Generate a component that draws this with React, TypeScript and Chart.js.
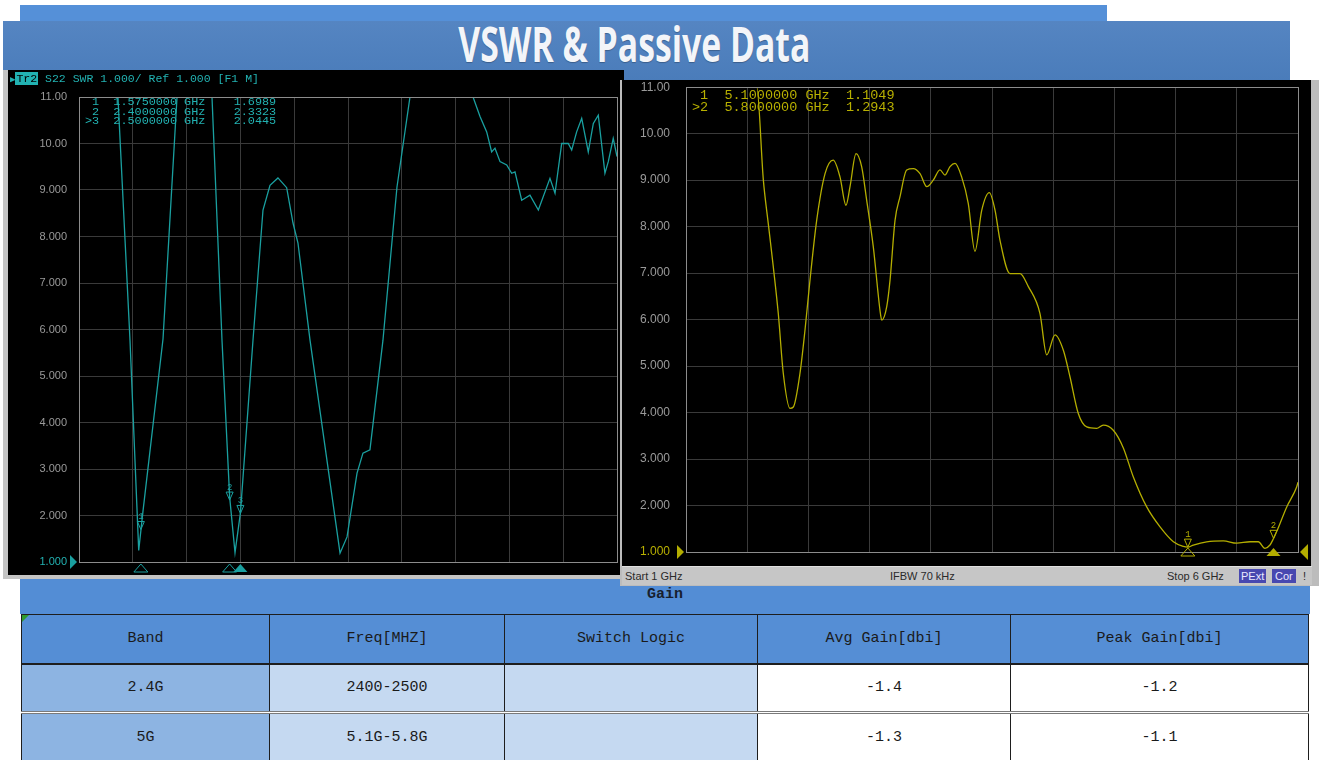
import React, { useEffect, useLayoutEffect, useRef } from 'react';
import { Chart, registerables } from 'chart.js';
Chart.register(...registerables);

// ---------- data ----------
const leftFreqGHz = [1.0, 1.362, 1.474, 1.555, 1.595, 1.781, 1.911, 2.236, 2.329, 2.4, 2.45, 2.5, 2.617, 2.71, 2.775, 2.849, 2.93, 2.989, 3.035, 3.147, 3.426, 3.491, 3.584, 3.639, 3.704, 3.825, 3.955, 4.076, 4.662, 4.727, 4.789, 4.835, 4.866, 4.913, 4.975, 5.021, 5.052, 5.114, 5.191, 5.269, 5.377, 5.424, 5.486, 5.547, 5.579, 5.625, 5.672, 5.733, 5.78, 5.826, 5.888, 5.919, 5.965, 6.0];
const leftVswr = [11, 11, 5.77, 1.25, 2.1, 5.8, 11, 11, 5.77, 2.4, 1.2, 2.05, 5.77, 8.57, 9.1, 9.26, 9.05, 8.29, 7.86, 5.77, 1.19, 1.54, 2.91, 3.34, 3.41, 5.77, 9.06, 11, 11, 10.58, 10.25, 9.82, 9.9, 9.61, 9.54, 9.36, 9.39, 8.78, 8.89, 8.57, 9.25, 8.93, 10.0, 10.0, 9.86, 10.25, 10.54, 9.82, 10.43, 10.61, 9.36, 9.61, 10.11, 9.72];
const leftMarkerFreqGHz = [1.575, 2.4, 2.5];
const leftMarkerVswr = [1.6989, 2.3323, 2.0445];
const leftMarkerLines = [' 1  1.5750000 GHz    1.6989', ' 2  2.4000000 GHz    2.3323', '>3  2.5000000 GHz    2.0445'];

const rightFreqGHz = [1.0, 1.578, 1.632, 1.672, 1.713, 1.754, 1.795, 1.85, 1.877, 1.931, 1.972, 2.013, 2.068, 2.136, 2.203, 2.258, 2.307, 2.34, 2.389, 2.435, 2.476, 2.53, 2.585, 2.599, 2.64, 2.667, 2.708, 2.748, 2.803, 2.857, 2.912, 2.967, 3.02, 3.075, 3.116, 3.157, 3.198, 3.252, 3.306, 3.361, 3.416, 3.478, 3.525, 3.565, 3.647, 3.729, 3.797, 3.892, 3.947, 4.015, 4.083, 4.137, 4.205, 4.274, 4.355, 4.409, 4.491, 4.573, 4.654, 4.764, 4.873, 4.982, 5.063, 5.1, 5.145, 5.254, 5.39, 5.499, 5.608, 5.676, 5.73, 5.771, 5.8, 5.826, 5.908, 5.989, 6.0];
const rightVswr = [11, 11, 9.0, 8.07, 7.14, 6.13, 4.84, 4.09, 4.12, 4.84, 5.77, 6.85, 8.14, 9.14, 9.43, 9.07, 8.46, 8.86, 9.57, 9.29, 8.57, 7.57, 6.2, 5.99, 6.28, 6.85, 8.14, 8.64, 9.22, 9.25, 9.14, 8.86, 9.0, 9.22, 9.11, 9.29, 9.36, 9.07, 8.5, 7.47, 8.35, 8.73, 8.35, 7.71, 6.99, 6.99, 6.71, 6.13, 5.24, 5.67, 5.34, 4.77, 3.98, 3.69, 3.66, 3.73, 3.62, 3.24, 2.62, 1.97, 1.54, 1.22, 1.12, 1.105, 1.15, 1.22, 1.24, 1.19, 1.22, 1.22, 1.08, 1.15, 1.29, 1.44, 1.97, 2.4, 2.5];
const rightMarkerFreqGHz = [5.1, 5.8];
const rightMarkerVswr = [1.1049, 1.2943];
const rightMarkerLines = [' 1  5.1000000 GHz  1.1049', '>2  5.8000000 GHz  1.2943'];

const yTickValues = [1, 2, 3, 4, 5, 6, 7, 8, 9, 10, 11];
const yTickLabels = ['1.000', '2.000', '3.000', '4.000', '5.000', '6.000', '7.000', '8.000', '9.000', '10.00', '11.00'];
const freqStartGHz = 1;
const freqStopGHz = 6;
const freqGridStepGHz = 0.5;

const tableHeaders = ['Band', 'Freq[MHZ]', 'Switch Logic', 'Avg Gain[dbi]', 'Peak Gain[dbi]'];
const bands = ['2.4G', '5G'];
const freqRanges = ['2400-2500', '5.1G-5.8G'];
const switchLogic = ['', ''];
const avgGain = ['-1.4', '-1.3'];
const peakGain = ['-1.2', '-1.1'];

// ---------- styles ----------
const TEAL = '#1aa0a0';
const TEAL_TXT = '#22b2b2';
const YELLOW = '#b4ae00';
const YELLOW_TXT = '#b8b000';
const GRID = '#3a3a3a';
const FRAME = '#8c8c8c';
const MONO = "'Liberation Mono', 'DejaVu Sans Mono', monospace";
const SANS = "'Liberation Sans', 'DejaVu Sans', sans-serif";

type VnaProps = {
  width: number;
  height: number;
  freq: number[];
  vswr: number[];
  markerFreq: number[];
  markerVswr: number[];
  activeMarker: number;
  color: string;
  labelColor: string;
  padding: { left: number; right: number; top: number; bottom: number };
  yAxisWidth: number;
  labelPadding: number;
  labelFontSize: number;
  smooth: boolean;
  rightRefArrow: boolean;
  bottomMarkerOffset: number;
};

function VnaChart(p: VnaProps) {
  const ref = useRef<HTMLCanvasElement>(null);
  useEffect(() => {
    const canvas = ref.current!;
    const decor = {
      id: 'vnaDecor',
      afterDatasetsDraw(chart: any) {
        const { ctx, chartArea, scales } = chart;
        const { left, right, top, bottom } = chartArea;
        const xs = scales.x;
        const ys = scales.y;
        ctx.save();
        ctx.strokeStyle = FRAME;
        ctx.lineWidth = 1;
        ctx.strokeRect(Math.round(left) + 0.5, Math.round(top) + 0.5, Math.round(right - left), Math.round(bottom - top));
        const yRef = ys.getPixelForValue(yTickValues[0]);
        ctx.fillStyle = p.color;
        ctx.beginPath();
        ctx.moveTo(left - 9, yRef - 7);
        ctx.lineTo(left - 2, yRef);
        ctx.lineTo(left - 9, yRef + 7);
        ctx.closePath();
        ctx.fill();
        if (p.rightRefArrow) {
          ctx.beginPath();
          ctx.moveTo(right + 10, yRef - 8);
          ctx.lineTo(right + 2, yRef);
          ctx.lineTo(right + 10, yRef + 8);
          ctx.closePath();
          ctx.fill();
        }
        ctx.strokeStyle = p.color;
        ctx.lineWidth = 1;
        ctx.font = `9px ${MONO}`;
        ctx.textAlign = 'center';
        ctx.textBaseline = 'bottom';
        p.markerFreq.forEach((f, i) => {
          const px = xs.getPixelForValue(f);
          const py = ys.getPixelForValue(p.markerVswr[i]);
          ctx.beginPath();
          ctx.moveTo(px - 3.5, py - 8);
          ctx.lineTo(px + 3.5, py - 8);
          ctx.lineTo(px, py);
          ctx.closePath();
          ctx.stroke();
          ctx.fillText(String(i + 1), px, py - 8);
          const by = bottom + p.bottomMarkerOffset;
          ctx.beginPath();
          ctx.moveTo(px, by);
          ctx.lineTo(px + 7, by + 8);
          ctx.lineTo(px - 7, by + 8);
          ctx.closePath();
          if (i === p.activeMarker) ctx.fill();
          else ctx.stroke();
        });
        ctx.restore();
      },
    };
    const chart = new Chart(canvas, {
      type: 'line',
      data: {
        datasets: [
          {
            data: p.freq.map((f, i) => ({ x: f, y: p.vswr[i] })),
            borderColor: p.color,
            borderWidth: 1.3,
            pointRadius: 0,
            tension: 0,
            cubicInterpolationMode: p.smooth ? 'monotone' : 'default',
          } as any,
        ],
      },
      options: {
        responsive: false,
        animation: false,
        devicePixelRatio: 1,
        layout: { padding: p.padding },
        plugins: { legend: { display: false }, tooltip: { enabled: false } },
        scales: {
          x: {
            type: 'linear',
            min: freqStartGHz,
            max: freqStopGHz,
            ticks: { display: false, stepSize: freqGridStepGHz },
            grid: { color: GRID, drawTicks: false, lineWidth: 1 },
            border: { display: false },
            afterFit: (s: any) => {
              s.height = 0;
            },
          },
          y: {
            type: 'linear',
            min: yTickValues[0],
            max: yTickValues[yTickValues.length - 1],
            ticks: {
              stepSize: 1,
              padding: 0,
              font: { family: SANS, size: p.labelFontSize },
              color: (c: any) => (c.tick && c.tick.value === yTickValues[0] ? p.labelColor : '#9a9a9a'),
              callback: (v: any) => {
                const i = yTickValues.indexOf(Number(v));
                return i >= 0 ? yTickLabels[i] : '';
              },
            },
            grid: { color: GRID, drawTicks: true, tickLength: p.labelPadding, tickColor: 'rgba(0,0,0,0)', lineWidth: 1 },
            border: { display: false },
            afterFit: (s: any) => {
              s.width = p.yAxisWidth;
            },
          },
        },
      },
      plugins: [decor],
    });
    return () => chart.destroy();
  }, []);
  return <canvas ref={ref} width={p.width} height={p.height} style={{ display: 'block', width: p.width, height: p.height }} />;
}

function Abs(props: { l: number; t: number; w?: number; h?: number; style?: React.CSSProperties; children?: React.ReactNode }) {
  return (
    <div style={{ position: 'absolute', left: props.l, top: props.t, width: props.w, height: props.h, ...props.style }}>{props.children}</div>
  );
}

function Title() {
  const ref = useRef<HTMLSpanElement>(null);
  useLayoutEffect(() => {
    const fit = () => {
      const el = ref.current;
      if (!el) return;
      el.style.transform = 'none';
      const w = el.getBoundingClientRect().width;
      if (w > 0) el.style.transform = `scaleX(${352 / w})`;
    };
    fit();
    if ((document as any).fonts) (document as any).fonts.ready.then(fit);
  }, []);
  return (
    <Abs l={134} t={20} w={1000} h={52} style={{ display: 'flex', justifyContent: 'center' }}>
      <span
        ref={ref}
        style={{
          display: 'inline-block',
          fontFamily: "'Open Sans', 'Noto Sans', sans-serif",
          fontWeight: 700,
          fontSize: 48,
          lineHeight: '48px',
          color: '#f3f5f9',
          whiteSpace: 'nowrap',
          transformOrigin: 'center',
          textShadow: '0 1px 1px rgba(0,0,0,0.25)',
        }}
      >
        VSWR &amp; Passive Data
      </span>
    </Abs>
  );
}

function GainTable() {
  const colW = [248, 235, 253, 253, 298];
  const cell = (bg: string): React.CSSProperties => ({
    background: bg,
    border: '1px solid #1e1e1e',
    textAlign: 'center',
    verticalAlign: 'middle',
    fontFamily: MONO,
    fontSize: 15,
    color: '#1a1a1a',
    padding: 0,
    boxSizing: 'border-box',
    overflow: 'hidden',
  });
  const rows = bands.map((b, i) => [b, freqRanges[i], switchLogic[i], avgGain[i], peakGain[i]]);
  const rowBg = ['#8db4e2', '#c5d9f1', '#c5d9f1', '#ffffff', '#ffffff'];
  const rowH = [49, 49, 48];
  return (
    <table style={{ position: 'absolute', left: 21, top: 614, width: 1288, borderCollapse: 'collapse', tableLayout: 'fixed' }}>
      <colgroup>
        {colW.map((w, i) => (
          <col key={i} style={{ width: w }} />
        ))}
      </colgroup>
      <tbody>
        <tr style={{ height: rowH[0] }}>
          {tableHeaders.map((h, i) => (
            <td key={i} style={{ ...cell('#558ed5'), borderBottom: '2px solid #1e1e1e' }}>
              {h}
            </td>
          ))}
        </tr>
        {rows.map((r, ri) => (
          <tr key={ri} style={{ height: rowH[ri + 1] }}>
            {r.map((v, ci) => (
              <td key={ci} style={{ ...cell(rowBg[ci]), borderTop: ri === 1 ? '3px double #7a7a7a' : undefined }}>
                {v}
              </td>
            ))}
          </tr>
        ))}
      </tbody>
    </table>
  );
}

export default function App() {
  return (
    <div style={{ position: 'absolute', left: 0, top: 0, width: 1321, height: 760, overflow: 'hidden', background: '#ffffff' }}>
      {/* top bands */}
      <Abs l={20} t={5} w={1087} h={17} style={{ background: '#5590d8' }} />
      <Abs l={3} t={21} w={1287} h={60} style={{ background: 'linear-gradient(#5585c2, #4a7cba)' }} />
      <Title />

      {/* gain band + table */}
      <Abs l={20} t={578} w={1290} h={36} style={{ background: '#538dd5' }} />
      <Abs l={20} t={585} w={1290} h={20} style={{ textAlign: 'center', fontFamily: MONO, fontWeight: 700, fontSize: 15, color: '#17202e', lineHeight: '20px' }}>
        Gain
      </Abs>
      <GainTable />
      <div style={{ position: 'absolute', left: 22, top: 615, width: 0, height: 0, borderTop: '7px solid #2e9a2e', borderRight: '7px solid transparent' }} />

      {/* left analyzer panel */}
      <Abs l={3} t={70} w={621} h={509} style={{ background: '#c4c4c4' }} />
      <Abs l={8} t={70} w={616} h={505} style={{ background: '#000' }}>
        <VnaChart
          width={616}
          height={505}
          freq={leftFreqGHz}
          vswr={leftVswr}
          markerFreq={leftMarkerFreqGHz}
          markerVswr={leftMarkerVswr}
          activeMarker={2}
          color={TEAL}
          labelColor={TEAL_TXT}
          padding={{ left: 0, right: 7, top: 27, bottom: 13 }}
          yAxisWidth={71}
          labelPadding={12}
          labelFontSize={11}
          smooth={false}
          rightRefArrow={false}
          bottomMarkerOffset={2}
        />
      </Abs>
      <Abs l={10} t={72} h={13} style={{ fontFamily: MONO, fontSize: 11.5, lineHeight: '13px', color: TEAL_TXT, whiteSpace: 'pre' }}>
        <span style={{ fontSize: 9 }}>▶</span>
        <span style={{ background: TEAL_TXT, color: '#000', padding: '0 1px' }}>Tr2</span>
        {' S22 SWR 1.000/ Ref 1.000 [F1 M]'}
      </Abs>
      <Abs l={85} t={98} style={{ fontFamily: MONO, fontSize: 11.8, lineHeight: '9.5px', color: TEAL_TXT, whiteSpace: 'pre' }}>
        {leftMarkerLines.map((s, i) => (
          <div key={i}>{s}</div>
        ))}
      </Abs>

      {/* right analyzer panel */}
      <Abs l={620} t={80} w={699} h={506} style={{ background: '#bcbcbc' }} />
      <Abs l={622} t={80} w={689} h={486} style={{ background: '#000' }}>
        <VnaChart
          width={689}
          height={486}
          freq={rightFreqGHz}
          vswr={rightVswr}
          markerFreq={rightMarkerFreqGHz}
          markerVswr={rightMarkerVswr}
          activeMarker={1}
          color={YELLOW}
          labelColor={YELLOW_TXT}
          padding={{ left: 0, right: 13, top: 7, bottom: 14 }}
          yAxisWidth={64}
          labelPadding={16}
          labelFontSize={12}
          smooth={true}
          rightRefArrow={true}
          bottomMarkerOffset={-4}
        />
      </Abs>
      <Abs l={692} t={90} style={{ fontFamily: MONO, fontSize: 13.5, lineHeight: '12px', color: YELLOW_TXT, whiteSpace: 'pre' }}>
        {rightMarkerLines.map((s, i) => (
          <div key={i}>{s}</div>
        ))}
      </Abs>
      <Abs l={622} t={566} w={690} h={18} style={{ background: '#c6c6c6', fontFamily: SANS, fontSize: 11, lineHeight: '18px', color: '#2a2a2a', borderTop: '1px solid #e0e0e0' }}>
        <span style={{ position: 'absolute', left: 3 }}>Start 1 GHz</span>
        <span style={{ position: 'absolute', left: 268 }}>IFBW 70 kHz</span>
        <span style={{ position: 'absolute', left: 545 }}>Stop 6 GHz</span>
        <span style={{ position: 'absolute', left: 617, top: 2, height: 14, lineHeight: '14px', padding: '0 2px', background: '#4848b0', color: '#e8e8ff' }}>PExt</span>
        <span style={{ position: 'absolute', left: 650, top: 2, height: 14, lineHeight: '14px', padding: '0 3px', background: '#4848b0', color: '#e8e8ff' }}>Cor</span>
        <span style={{ position: 'absolute', left: 681 }}>!</span>
      </Abs>
    </div>
  );
}
